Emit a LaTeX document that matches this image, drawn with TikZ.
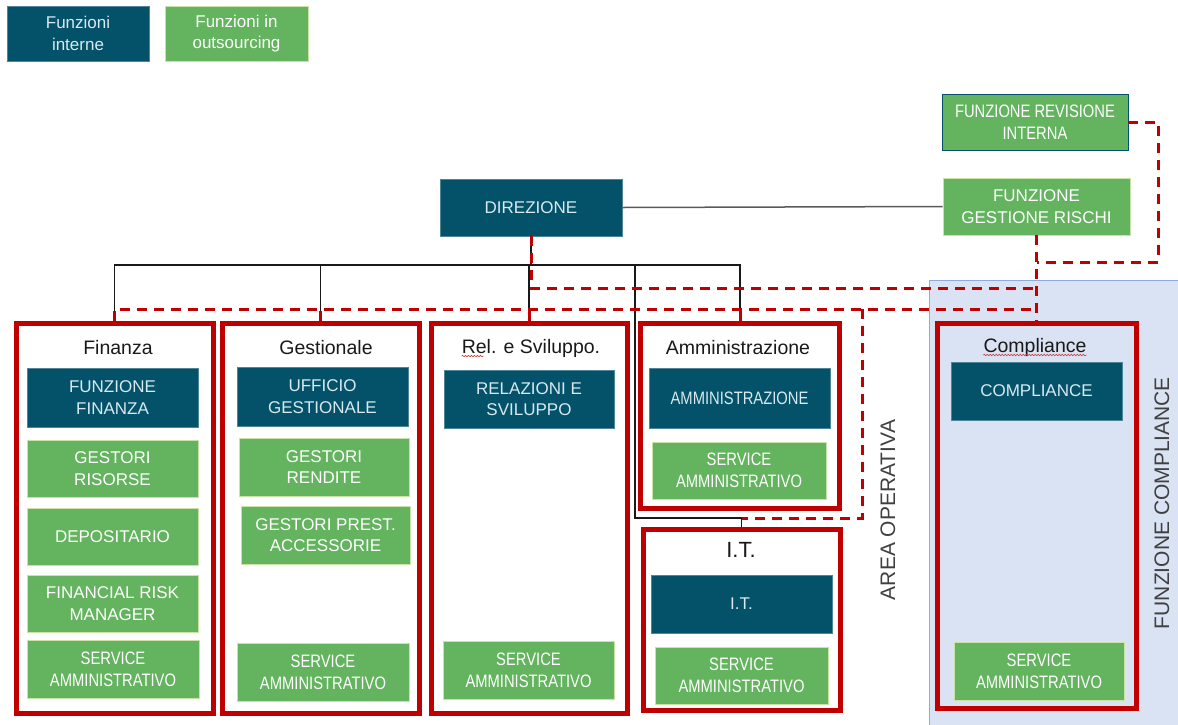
\documentclass[tikz,border=0pt]{standalone}
\usepackage{fontspec}
\setmainfont{Liberation Sans}
\newfontfamily\condfont[FakeStretch=0.82]{Liberation Sans}
\usetikzlibrary{decorations.pathmorphing}
\definecolor{tealbox}{HTML}{03526A}
\definecolor{greenbox}{HTML}{63B35F}
\definecolor{greenedge}{HTML}{C9E2A6}
\definecolor{redline}{HTML}{C00000}
\definecolor{bluebg}{HTML}{DAE3F3}
\definecolor{blueedge}{HTML}{8FAADC}
\definecolor{tealtext}{HTML}{D8E9EF}
\tikzset{
  base/.style={rectangle, inner sep=0pt, align=center, font=\fontsize{17}{21.5}\selectfont},
  intbox/.style={base, fill=tealbox, draw=tealbox!70!white, line width=0.6pt, text=tealtext},
  outbox/.style={base, fill=greenbox, draw=greenedge, line width=0.8pt, text=white},
  cond/.style={font=\condfont\fontsize{18}{22}\selectfont},
  sz/.style 2 args={minimum width=#1pt, minimum height=#2pt},
  grp/.style={rectangle, draw=redline, line width=5pt, inner sep=0pt},
  ttl/.style={font=\fontsize{19.5}{22}\selectfont, text=black!90, inner sep=0pt},
  tree/.style={draw=black!90, line width=1.1pt},
  grayline/.style={draw=black!65, line width=1.5pt},
  dashr/.style={draw=redline, line width=3pt, dash pattern=on 10pt off 7pt},
  wavy/.style={draw=redline!80, line width=0.6pt, decorate, decoration={snake, amplitude=0.7pt, segment length=3pt}},
  sidelbl/.style={rotate=90, font=\fontsize{21}{25}\selectfont, text=black!75, inner sep=0pt},
}
\begin{document}
\begin{tikzpicture}[x=1pt,y=-1pt]
\useasboundingbox (0,0) rectangle (1178,724);
% compliance area background
\path[fill=bluebg, draw=blueedge, line width=0.8pt] (929,280) rectangle (1180,726);

% legend
\node[intbox, sz={142}{55}] (leg1) at (78,33.5) {Funzioni\\interne};
\node[outbox, sz={143}{55}] (leg2) at (236.5,33.5) {Funzioni in\\outsourcing};

% top nodes
\node[outbox, draw=tealbox, cond, sz={186}{56}] (fri) at (1035,122) {FUNZIONE REVISIONE\\INTERNA};
\node[outbox, sz={187}{57}] (fgr) at (1036.5,206.5) {FUNZIONE\\GESTIONE RISCHI};
\node[intbox, sz={182}{57}] (dir) at (531,207.5) {DIREZIONE};

% groups
\node[grp, sz={197}{390}] (fin) at (114.5,518) {};
\node[grp, sz={197}{390}] (ges) at (320.5,518) {};
\node[grp, sz={196}{390}] (rs) at (529,518) {};
\node[grp, sz={199}{185}] (amm) at (740,415.5) {};
\node[grp, sz={197}{181}] (itg) at (741.5,619.5) {};
\node[grp, sz={199}{385}] (comp) at (1036.5,515.5) {};

% titles
\node[ttl] (fin-t) at (118,348) {Finanza};
\node[ttl] (ges-t) at (326,348) {Gestionale};
\node[ttl] (rs-t) at (531,348) {Rel. e Sviluppo.};
\node[ttl] (amm-t) at (738,348) {Amministrazione};
\node[ttl, font=\fontsize{22}{26}\selectfont] (it-t) at (741,550) {I.T.};
\node[ttl] (co-t) at (1035,347) {Compliance};
\draw[wavy] ([yshift=-3pt]rs-t.base west) -- ++(22,0);
\draw[wavy] ([yshift=-3pt]co-t.base west) -- ([yshift=-3pt]co-t.base east);

% Finanza
\node[intbox, sz={171}{59}] (ff) at (112.5,397.5) {FUNZIONE\\FINANZA};
\node[outbox, sz={171}{57}] (gr) at (112.5,468.5) {GESTORI\\RISORSE};
\node[outbox, sz={171}{57}] (dep) at (112.5,536.5) {DEPOSITARIO};
\node[outbox, sz={171}{57}] (frm) at (112.5,603.5) {FINANCIAL RISK\\MANAGER};
\node[outbox, cond, sz={172}{58}] (sa1) at (113,669) {SERVICE\\AMMINISTRATIVO};
% Gestionale
\node[intbox, sz={171}{59}] (ug) at (322.5,396.5) {UFFICIO\\GESTIONALE};
\node[outbox, sz={170}{58}] (gre) at (324,467) {GESTORI\\RENDITE};
\node[outbox, sz={169}{58}] (gpa) at (325.5,535) {GESTORI PREST.\\ACCESSORIE};
\node[outbox, cond, sz={172}{58}] (sa2) at (323,672) {SERVICE\\AMMINISTRATIVO};
% Rel. e Sviluppo
\node[intbox, sz={170}{58}] (rsb) at (529,399) {RELAZIONI E\\SVILUPPO};
\node[outbox, cond, sz={171}{58}] (sa3) at (528.5,670) {SERVICE\\AMMINISTRATIVO};
% Amministrazione
\node[intbox, cond, sz={181}{60}] (amb) at (739.5,398) {AMMINISTRAZIONE};
\node[outbox, cond, sz={174}{57}] (sa4) at (739,470.5) {SERVICE\\AMMINISTRATIVO};
% I.T.
\node[intbox, sz={181}{58}] (itb) at (741.5,604) {I.T.};
\node[outbox, cond, sz={173}{57}] (sa5) at (741.5,675.5) {SERVICE\\AMMINISTRATIVO};
% Compliance
\node[intbox, sz={171}{58}] (cob) at (1036.5,391) {COMPLIANCE};
\node[outbox, cond, sz={170}{58}] (sa6) at (1039,671) {SERVICE\\AMMINISTRATIVO};

% side labels
\node[sidelbl] (ao-l) at (888,510) {AREA OPERATIVA};
\node[sidelbl] (fc-l) at (1162,503) {FUNZIONE COMPLIANCE};

% black tree
\coordinate (bus) at (531,265);
\coordinate (itbus) at (635,265);
\draw[tree] (dir.south) -- (bus);
\draw[tree] (fin.north) |- (amm.north |- bus) -- (amm.north);
\draw[tree] (ges.north) -- (ges.north |- bus);
\draw[tree] (rs.north) -- (rs.north |- bus);
\draw[tree] (itg.north) -- (itg.north |- 0,518) -| (itbus);
\draw[grayline] (dir.east) -- (fgr.west);

% red dashed
\coordinate (frir) at (1158,122);
\coordinate (aotop) at (862,309);
\draw[dashr] (fri.east) -- (frir) -- (frir |- 0,262) -- (fgr.south |- 0,262);
\draw[dashr] (fgr.south) -- (comp.north);
\draw[dashr] (dir.south) -- (dir.south |- 0,288) -- (fgr.south |- 0,288);
\draw[dashr] (fin.north) -- (fin.north |- aotop) -- (fgr.south |- aotop);
\draw[dashr] (ges.north) -- (ges.north |- aotop);
\draw[dashr] (rs.north) -- (rs.north |- aotop);
\draw[dashr] (amm.north) -- (amm.north |- aotop);
\draw[dashr] (aotop) -- (aotop |- 0,518) -- (itg.north |- 0,518);
\end{tikzpicture}
\end{document}
